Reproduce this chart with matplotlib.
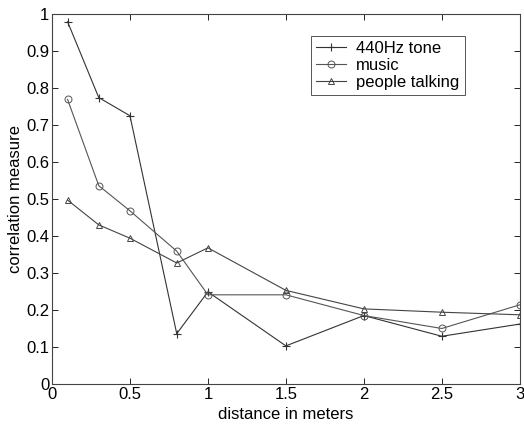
import matplotlib
matplotlib.use('Agg')
import matplotlib.pyplot as plt
from matplotlib.ticker import FuncFormatter

distance = [0.1, 0.3, 0.5, 0.8, 1.0, 1.5, 2.0, 2.5, 3.0]
tone = [0.979, 0.774, 0.725, 0.136, 0.249, 0.103, 0.185, 0.129, 0.162]
music = [0.769, 0.536, 0.468, 0.359, 0.241, 0.241, 0.185, 0.150, 0.214]
talking = [0.497, 0.430, 0.394, 0.327, 0.368, 0.253, 0.203, 0.194, 0.187]

plt.rcParams['font.family'] = ['Liberation Sans', 'DejaVu Sans']

fig = plt.figure(figsize=(5.24, 4.26), dpi=100)
ax = fig.add_axes([0.0992, 0.0986, 0.8928, 0.8686])

ax.plot(distance, tone, color='#333333', linewidth=0.8, marker='+', markersize=6,
        markeredgewidth=0.8, label='440Hz tone')
ax.plot(distance, music, color='#555555', linewidth=0.8, marker='o', markersize=5,
        markerfacecolor='none', markeredgewidth=0.7, label='music')
ax.plot(distance, talking, color='#444444', linewidth=0.8, marker='^', markersize=5,
        markerfacecolor='none', markeredgewidth=0.7, label='people talking')

ax.set_xlim(0, 3)
ax.set_ylim(0, 1)
ax.set_xticks([0, 0.5, 1, 1.5, 2, 2.5, 3])
ax.set_yticks([i / 10 for i in range(11)])
fmt = FuncFormatter(lambda v, p: '%g' % round(v, 2))
ax.xaxis.set_major_formatter(fmt)
ax.yaxis.set_major_formatter(fmt)
ax.tick_params(direction='in', top=True, right=True, labelsize=12, length=4, width=0.6, pad=2)
for s in ax.spines.values():
    s.set_linewidth(0.8)
    s.set_color('#444444')

ax.set_xlabel('distance in meters', fontsize=12, labelpad=4)
ax.set_ylabel('correlation measure', fontsize=12, labelpad=2)

leg = ax.legend(loc='upper right', bbox_to_anchor=(0.882, 0.94), fontsize=12, fancybox=False,
                framealpha=1, edgecolor='#555555', borderpad=0.3, labelspacing=0.1,
                handlelength=1.8, handletextpad=0.6, borderaxespad=0)
leg.get_frame().set_linewidth(0.7)

fig.savefig('out.png', dpi=100)
